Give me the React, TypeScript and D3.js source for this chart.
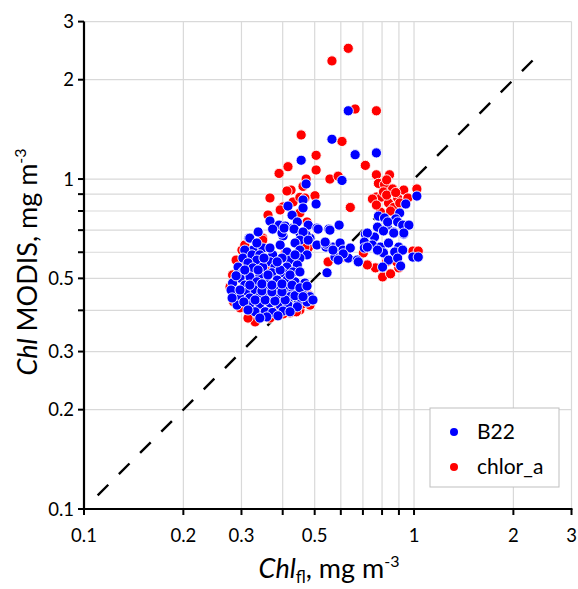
import React from 'react';
import * as d3 from 'd3';

const W = 578;
const H = 589;

const axisMin = 0.1;
const axisMax = 3;
const labeledTicks = [0.1, 0.2, 0.3, 0.5, 1, 2, 3];
const gridValues = [0.2, 0.3, 0.4, 0.5, 0.6, 0.7, 0.8, 0.9, 1, 2, 3];
const oneToOne = [0.11, 2.45];

const seriesNames = ['B22', 'chlor_a'];
const seriesColors = ['#0000ff', '#ff0000'];

// B22 points [Chl_fl, Chl MODIS]
const b22: [number, number][] = [
  [0.632, 1.61], [0.564, 1.32], [0.663, 1.185], [0.769, 1.2], [0.455, 1.14], [0.605, 0.99],
  [0.471, 0.966], [0.505, 0.84], [0.461, 0.864], [0.461, 0.817], [0.415, 0.828], [0.427, 0.777],
  [0.366, 0.746], [0.478, 0.725], [0.508, 0.71], [0.552, 0.705], [0.593, 0.725], [0.39, 0.725],
  [0.407, 0.72], [0.43, 0.71], [0.451, 0.686], [0.401, 0.672], [0.484, 0.662], [0.443, 0.741],
  [0.373, 0.705], [0.337, 0.691], [0.398, 0.686], [0.471, 0.677], [0.316, 0.662], [0.404, 0.71],
  [0.433, 0.705], [0.461, 0.691], [0.512, 0.705], [0.451, 0.653], [0.478, 0.653], [0.508, 0.631],
  [0.541, 0.622], [0.568, 0.622], [0.597, 0.64], [0.436, 0.64], [0.393, 0.631], [0.318, 0.662],
  [0.348, 0.618], [0.325, 0.609], [0.307, 0.609], [0.303, 0.576], [0.323, 0.589], [0.341, 0.589],
  [0.373, 0.589], [0.412, 0.601], [0.451, 0.609], [0.474, 0.589], [0.451, 0.576], [0.421, 0.568],
  [0.398, 0.576], [0.366, 0.561], [0.334, 0.568], [0.314, 0.557], [0.293, 0.541], [0.303, 0.523],
  [0.325, 0.538], [0.348, 0.541], [0.379, 0.541], [0.412, 0.541], [0.443, 0.549], [0.43, 0.523],
  [0.401, 0.52], [0.371, 0.52], [0.341, 0.512], [0.318, 0.505], [0.297, 0.501], [0.282, 0.484],
  [0.307, 0.477], [0.334, 0.488], [0.358, 0.488], [0.385, 0.494], [0.412, 0.494], [0.436, 0.488],
  [0.467, 0.484], [0.287, 0.455], [0.312, 0.455], [0.33, 0.461], [0.354, 0.468], [0.379, 0.468],
  [0.407, 0.468], [0.43, 0.461], [0.458, 0.452], [0.484, 0.44], [0.297, 0.436], [0.318, 0.436],
  [0.341, 0.44], [0.366, 0.445], [0.393, 0.44], [0.421, 0.44], [0.446, 0.424], [0.474, 0.424],
  [0.291, 0.415], [0.318, 0.415], [0.341, 0.418], [0.366, 0.421], [0.393, 0.415], [0.415, 0.415],
  [0.443, 0.41], [0.33, 0.396], [0.354, 0.396], [0.373, 0.394], [0.401, 0.398], [0.358, 0.382],
  [0.289, 0.509], [0.279, 0.461], [0.281, 0.436], [0.305, 0.424], [0.33, 0.43], [0.354, 0.43],
  [0.379, 0.427], [0.407, 0.43], [0.436, 0.443], [0.346, 0.458], [0.371, 0.455], [0.398, 0.455],
  [0.318, 0.477], [0.346, 0.481], [0.371, 0.477], [0.398, 0.481], [0.427, 0.477], [0.451, 0.468],
  [0.307, 0.53], [0.337, 0.53], [0.361, 0.512], [0.393, 0.53], [0.421, 0.512], [0.451, 0.523],
  [0.351, 0.576], [0.385, 0.561], [0.436, 0.589], [0.314, 0.401], [0.341, 0.379], [0.387, 0.385],
  [0.421, 0.396], [0.461, 0.44], [0.494, 0.43], [0.334, 0.64], [0.366, 0.618], [0.297, 0.461],
  [0.609, 0.609], [0.632, 0.576], [0.673, 0.568], [0.576, 0.58], [0.545, 0.52], [0.474, 0.474],
  [0.556, 0.7], [0.541, 0.635], [0.641, 0.618], [0.568, 0.609], [0.61, 0.593], [0.589, 0.568],
  [0.678, 0.561], [0.538, 0.644],
  [1.02, 0.888], [0.944, 0.84], [0.905, 0.789], [0.78, 0.772], [0.814, 0.762], [0.88, 0.757],
  [0.958, 0.725], [0.775, 0.715], [0.832, 0.71], [0.868, 0.691], [0.931, 0.681], [0.712, 0.681],
  [0.759, 0.667], [0.808, 0.696], [0.722, 0.686], [0.707, 0.644], [0.748, 0.631], [0.791, 0.622],
  [0.837, 0.64], [0.899, 0.622], [0.874, 0.601], [0.924, 0.609], [0.808, 0.597], [0.775, 0.609],
  [0.707, 0.618], [0.837, 0.568], [0.803, 0.541], [0.892, 0.576], [0.911, 0.545], [0.992, 0.58],
  [1.03, 0.58], [0.722, 0.622], [0.832, 0.741], [0.892, 0.741], [0.924, 0.725], [0.965, 0.725],
  [0.931, 0.686], [0.868, 0.686],
];

// chlor_a points [Chl_fl, Chl MODIS]
const chlorA: [number, number][] = [
  [0.632, 2.49], [0.564, 2.28], [0.663, 1.63], [0.769, 1.61], [0.605, 1.3], [0.455, 1.36],
  [0.712, 1.1], [0.769, 1.03], [0.843, 1.03], [0.556, 1.0], [0.589, 1.02], [0.505, 1.18],
  [0.415, 1.09], [0.39, 1.04], [0.505, 1.065], [0.471, 1.0], [0.641, 0.82], [0.424, 0.926],
  [0.412, 0.92], [0.461, 0.95], [0.366, 0.876], [0.501, 0.89], [0.43, 0.852], [0.451, 0.88],
  [0.401, 0.823], [0.361, 0.778], [0.451, 0.79], [0.474, 0.741], [0.348, 0.662], [0.393, 0.806],
  [0.467, 0.876],
  [0.78, 0.97], [0.814, 0.963], [0.769, 0.882], [0.797, 0.882], [0.861, 0.933], [0.892, 0.876],
  [0.931, 0.926], [1.02, 0.933], [0.958, 0.876], [0.837, 0.846], [0.791, 0.794], [0.868, 0.82],
  [0.808, 0.914], [0.905, 0.846], [0.826, 0.894], [0.748, 0.87], [0.769, 0.834], [0.849, 0.8],
  [0.88, 0.91], [0.826, 0.994],
  [0.764, 0.538], [0.803, 0.505], [0.849, 0.516], [0.899, 0.538], [0.992, 0.605], [1.03, 0.605],
  [0.722, 0.549], [0.826, 0.561], [0.886, 0.561],
  [0.541, 0.626], [0.619, 0.601], [0.614, 0.58], [0.549, 0.561], [0.478, 0.618], [0.467, 0.622],
  [0.508, 0.705], [0.702, 0.597],
  [0.348, 0.653], [0.301, 0.609], [0.297, 0.561], [0.282, 0.512], [0.277, 0.471], [0.284, 0.424],
  [0.407, 0.597], [0.478, 0.446], [0.484, 0.415], [0.451, 0.401], [0.387, 0.401], [0.366, 0.379],
  [0.334, 0.379], [0.321, 0.393], [0.33, 0.369], [0.421, 0.393], [0.491, 0.43], [0.289, 0.568],
  [0.307, 0.631], [0.284, 0.488], [0.291, 0.445], [0.354, 0.385], [0.401, 0.39], [0.44, 0.396],
  [0.458, 0.418], [0.314, 0.379], [0.31, 0.413], [0.297, 0.407],
  [0.318, 0.53], [0.354, 0.494], [0.393, 0.461], [0.341, 0.43], [0.379, 0.568], [0.421, 0.53],
  [0.33, 0.461], [0.366, 0.53], [0.407, 0.43], [0.307, 0.461],
];

const FONT = 'Lato, "Open Sans", sans-serif';

export default function App() {
  const x = d3.scaleLog().domain([axisMin, axisMax]).range([84, 571.5]);
  const y = d3.scaleLog().domain([axisMin, axisMax]).range([509, 21.6]);
  const fmt = (v: number) => String(v);

  const series = [
    { name: seriesNames[1], color: seriesColors[1], data: chlorA },
    { name: seriesNames[0], color: seriesColors[0], data: b22 },
  ];

  const line = d3.line<number>().x((d) => x(d)).y((d) => y(d));

  return (
    <svg width={W} height={H} style={{ position: 'absolute', left: 0, top: 0, background: '#fff' }} fontFamily={FONT}>
      <rect x={0} y={0} width={W} height={H} fill="#fff" />
      {/* grid */}
      {gridValues.map((v) => (
        <line key={'gx' + v} x1={x(v)} x2={x(v)} y1={y(axisMin)} y2={y(axisMax)} stroke="#d9d9d9" strokeWidth={1.2} />
      ))}
      {gridValues.map((v) => (
        <line key={'gy' + v} y1={y(v)} y2={y(v)} x1={x(axisMin)} x2={x(axisMax)} stroke="#d9d9d9" strokeWidth={1.2} />
      ))}
      {/* 1:1 line */}
      <path d={line(oneToOne) || ''} stroke="#000" strokeWidth={2.4} strokeDasharray="15 15" fill="none" />
      {/* points */}
      {series.map((s) =>
        s.data.map((d, i) => (
          <circle key={s.name + i} cx={x(d[0])} cy={y(d[1])} r={5.1} fill={s.color} stroke="#fff" strokeWidth={0.9} />
        ))
      )}
      {/* axes */}
      <line x1={x(axisMin)} x2={x(axisMax) + 1} y1={y(axisMin)} y2={y(axisMin)} stroke="#000" strokeWidth={2.2} />
      <line x1={x(axisMin)} x2={x(axisMin)} y1={y(axisMin) + 1} y2={y(axisMax)} stroke="#000" strokeWidth={2.2} />
      {[axisMin, ...gridValues].map((v) => (
        <line key={'tx' + v} x1={x(v)} x2={x(v)} y1={y(axisMin)} y2={y(axisMin) + 6} stroke="#000" strokeWidth={2} />
      ))}
      {[axisMin, ...gridValues].map((v) => (
        <line key={'ty' + v} x1={x(axisMin) - 6} x2={x(axisMin)} y1={y(v)} y2={y(v)} stroke="#000" strokeWidth={2} />
      ))}
      {labeledTicks.map((v) => (
        <text key={'lx' + v} x={x(v)} y={y(axisMin) + 33} textAnchor="middle" fontSize={18.5} fill="#000">
          {fmt(v)}
        </text>
      ))}
      {labeledTicks.map((v) => (
        <text key={'ly' + v} x={x(axisMin) - 10} y={y(v) + 6.5} textAnchor="end" fontSize={18.5} fill="#000">
          {fmt(v)}
        </text>
      ))}
      {/* axis titles */}
      <text x={329} y={578} textAnchor="middle" fontSize={27} fill="#000">
        <tspan fontStyle="italic">Chl</tspan>
        <tspan fontSize={17} dy={5}>fl</tspan>
        <tspan dy={-5}>, mg m</tspan>
        <tspan fontSize={16} dy={-11}>-3</tspan>
      </text>
      <text transform="translate(37,262) rotate(-90)" textAnchor="middle" fontSize={27} fill="#000">
        <tspan fontStyle="italic">Chl</tspan>
        <tspan> MODIS, mg m</tspan>
        <tspan fontSize={16} dy={-11}>-3</tspan>
      </text>
      {/* legend */}
      <rect x={430} y={408} width={129} height={79} fill="#fff" stroke="#bfbfbf" strokeWidth={1} />
      {[0, 1].map((i) => (
        <g key={'leg' + i}>
          <circle cx={454} cy={432 + i * 35} r={4} fill={seriesColors[i]} />
          <text x={477} y={439 + i * 35} fontSize={21} fill="#000">
            {seriesNames[i]}
          </text>
        </g>
      ))}
    </svg>
  );
}
